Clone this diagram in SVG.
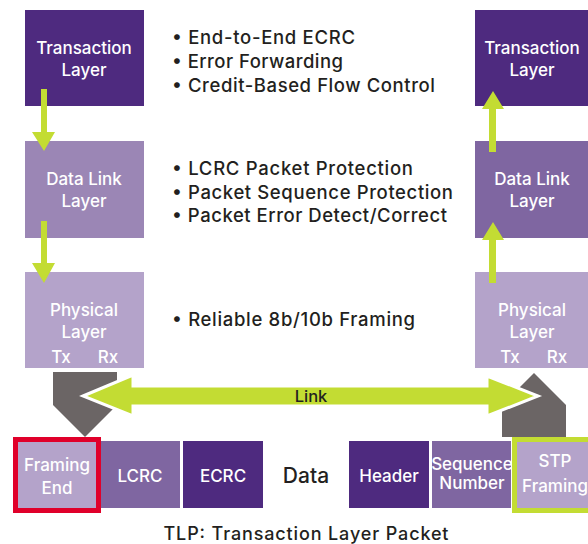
<svg xmlns="http://www.w3.org/2000/svg" width="588" height="544" viewBox="0 0 588 544">
  <style>
    .dark { fill: #4e2a7f; }
    .mid { fill: #7f66a1; }
    .soft { fill: #9b86b5; }
    .light { fill: #b4a3ca; }
    .box-label { font-family: Inter, "Liberation Sans", Arial, sans-serif; font-weight: 500; font-size: 17px; fill: #ffffff; text-anchor: middle; }
    .bullet { font-family: Inter, "Liberation Sans", Arial, sans-serif; font-weight: 500; font-size: 18.5px; fill: #231f20; }
    .label { font-family: Inter, "Liberation Sans", Arial, sans-serif; font-weight: 500; fill: #231f20; text-anchor: middle; }
    .gray { fill: #6b6565; }
    .green { fill: #c3dc33; }
  </style>

  <rect width="588" height="544" fill="#ffffff"/>

  <!-- sending stack -->
  <g id="tx-transaction">
    <rect class="dark" x="25" y="10" width="119" height="96"/>
    <text class="box-label" x="84" y="54">Transaction</text>
    <text class="box-label" x="84" y="76">Layer</text>
  </g>
  <g id="tx-datalink">
    <rect class="soft" x="25" y="141" width="119" height="97"/>
    <text class="box-label" x="84" y="185">Data Link</text>
    <text class="box-label" x="84" y="207">Layer</text>
  </g>
  <g id="tx-physical">
    <rect class="light" x="25" y="272" width="119" height="96"/>
    <text class="box-label" x="84" y="316">Physical</text>
    <text class="box-label" x="84" y="338">Layer</text>
    <text class="box-label" x="61" y="363">Tx</text>
    <text class="box-label" x="108" y="363">Rx</text>
  </g>

  <!-- receiving stack -->
  <g id="rx-transaction">
    <rect class="dark" x="475" y="10" width="113" height="96"/>
    <text class="box-label" x="532" y="54">Transaction</text>
    <text class="box-label" x="532" y="76">Layer</text>
  </g>
  <g id="rx-datalink">
    <rect class="mid" x="475" y="141" width="113" height="97"/>
    <text class="box-label" x="532" y="185">Data Link</text>
    <text class="box-label" x="532" y="207">Layer</text>
  </g>
  <g id="rx-physical">
    <rect class="light" x="475" y="272" width="113" height="96"/>
    <text class="box-label" x="532" y="316">Physical</text>
    <text class="box-label" x="532" y="338">Layer</text>
    <text class="box-label" x="510" y="363">Tx</text>
    <text class="box-label" x="557" y="363">Rx</text>
  </g>

  <!-- layer feature lists -->
  <g id="transaction-features" class="bullet">
    <text x="172" y="44" textLength="183">• End-to-End ECRC</text>
    <text x="172" y="68" textLength="171">• Error Forwarding</text>
    <text x="172" y="92" textLength="263">• Credit-Based Flow Control</text>
  </g>
  <g id="datalink-features" class="bullet">
    <text x="172" y="175" textLength="241">• LCRC Packet Protection</text>
    <text x="172" y="199" textLength="281">• Packet Sequence Protection</text>
    <text x="172" y="222" textLength="275">• Packet Error Detect/Correct</text>
  </g>
  <g id="physical-features" class="bullet">
    <text x="172" y="326" textLength="243">• Reliable 8b/10b Framing</text>
  </g>

  <!-- packet fields -->
  <g id="field-framing-end">
    <rect class="light" x="15.5" y="439.5" width="83" height="71" stroke="#e0002a" stroke-width="5"/>
    <text class="box-label" x="57" y="471">Framing</text>
    <text class="box-label" x="57" y="494">End</text>
  </g>
  <g id="field-lcrc">
    <rect class="mid" x="101" y="441" width="79" height="67"/>
    <text class="box-label" x="140" y="482">LCRC</text>
  </g>
  <g id="field-ecrc">
    <rect class="dark" x="183" y="441" width="80" height="67"/>
    <text class="box-label" x="223" y="482">ECRC</text>
  </g>
  <g id="field-data">
    <text class="label" x="306" y="483" font-size="21">Data</text>
  </g>
  <g id="field-header">
    <rect class="dark" x="349" y="441" width="80" height="67"/>
    <text class="box-label" x="389" y="482">Header</text>
  </g>
  <g id="field-sequence">
    <rect class="mid" x="432" y="441" width="79" height="67"/>
    <text class="box-label" x="472" y="470" font-size="13.5">Sequence</text>
    <text class="box-label" x="472" y="489" font-size="13.5">Number</text>
  </g>

  <!-- connectors -->
  <g id="connectors">
    <!-- down the sending stack -->
    <polygon class="green" points="41,89 47,89 47,132 55,132 44,151 32,132 41,132"/>
    <polygon class="green" points="41,221 47,221 47,263 55,263 44,283 32,263 41,263"/>
    <!-- up the receiving stack -->
    <polygon class="green" points="489,152 496,152 496,109 504,109 493,91 482,109 489,109"/>
    <polygon class="green" points="489,283 496,283 496,240 504,240 493,222 482,240 489,240"/>
    <!-- attachments of the stacks to the link -->
    <polygon class="gray" points="53,372 117,372 117,405 85,437 53,405"/>
    <polygon class="gray" points="502,437 502,405 534,373 566,405 566,437"/>
    <!-- the link itself -->
    <polygon class="green" points="83,396 133,375 133,386 487,386 487,376 538,396 487,416 487,406 133,406 133,416" stroke="#ffffff" stroke-width="3" stroke-linejoin="miter"/>
    <text class="label" x="311" y="402" font-size="16.5">Link</text>
  </g>

  <g id="field-stp">
    <rect class="light" x="514.5" y="439.5" width="80" height="71" stroke="#c3dc33" stroke-width="5"/>
    <text class="box-label" x="555" y="467">STP</text>
    <text class="box-label" x="555" y="492">Framing</text>
  </g>

  <g id="caption">
    <text class="label" x="306" y="540" font-size="18" textLength="285">TLP: Transaction Layer Packet</text>
  </g>
</svg>
